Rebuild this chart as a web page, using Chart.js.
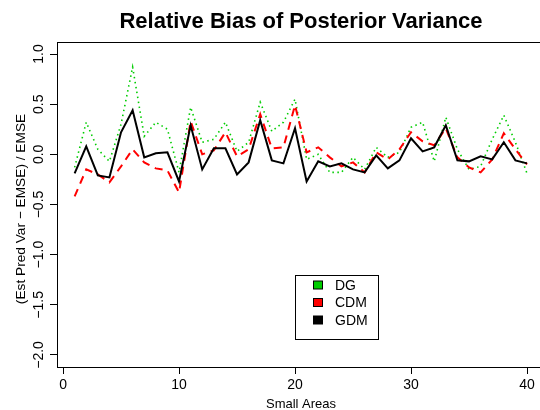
<!DOCTYPE html>
<html>
<head>
<meta charset="utf-8">
<script src="https://cdn.jsdelivr.net/npm/chart.js@4.4.1/dist/chart.umd.min.js"></script>
<style>
  html, body { margin: 0; padding: 0; background: #fff; }
</style>
</head>
<body>
<canvas id="biasChart" width="540" height="410"></canvas>
<script>
// --- data ---
const areas = [1, 2, 3, 4, 5, 6, 7, 8, 9, 10, 11, 12, 13, 14, 15, 16, 17, 18, 19, 20,
               21, 22, 23, 24, 25, 26, 27, 28, 29, 30, 31, 32, 33, 34, 35, 36, 37, 38, 39, 40];
const dgBias = [-0.13, 0.32, 0.05, -0.07, 0.30, 0.87, 0.18, 0.32, 0.25, -0.18,
                0.47, 0.12, 0.15, 0.32, 0.03, 0.12, 0.52, 0.23, 0.32, 0.55,
                -0.05, 0.00, -0.18, -0.18, -0.03, -0.15, 0.07, -0.03, 0.02, 0.27,
                0.32, -0.07, 0.37, 0.05, -0.15, -0.12, 0.15, 0.39, 0.12, -0.19];
const cdmBias = [-0.42, -0.15, -0.20, -0.28, -0.12, 0.05, -0.08, -0.14, -0.16, -0.38,
                 0.33, 0.00, 0.04, 0.22, -0.02, 0.05, 0.40, 0.06, 0.07, 0.49,
                 0.02, 0.07, -0.03, -0.12, -0.08, -0.18, 0.02, -0.05, 0.05, 0.22,
                 0.13, 0.09, 0.26, -0.03, -0.13, -0.18, -0.05, 0.21, 0.05, -0.10];
const gdmBias = [-0.19, 0.08, -0.21, -0.23, 0.22, 0.44, -0.03, 0.01, 0.02, -0.27,
                 0.29, -0.15, 0.06, 0.06, -0.20, -0.08, 0.34, -0.06, -0.09, 0.26,
                 -0.27, -0.07, -0.12, -0.09, -0.15, -0.18, -0.01, -0.14, -0.06, 0.16,
                 0.03, 0.07, 0.29, -0.06, -0.07, -0.02, -0.05, 0.12, -0.06, -0.09];
const xTicks = [0, 10, 20, 30, 40];
const yTicks = [-2.0, -1.5, -1.0, -0.5, 0.0, 0.5, 1.0];

const FONT = 'Liberation Sans, Arial, Helvetica, sans-serif';

const pts = vals => vals.map((v, i) => ({ x: areas[i], y: v }));

// box, title, axis titles and in-plot legend (R style)
const rDecor = {
  id: 'rDecor',
  afterDraw(chart) {
    const ctx = chart.ctx;
    const a = chart.chartArea;
    ctx.save();
    ctx.strokeStyle = '#000';
    ctx.lineWidth = 1;
    ctx.strokeRect(a.left + 0.5, a.top + 0.5, a.right - a.left, a.bottom - a.top);

    const cx = (a.left + a.right + 5) / 2;
    ctx.fillStyle = '#000';
    ctx.textAlign = 'center';
    ctx.textBaseline = 'middle';
    ctx.font = 'bold 22px ' + FONT;
    ctx.fillText('Relative Bias of Posterior Variance', cx, 22);

    ctx.font = '13px ' + FONT;
    ctx.fillText('Small Areas', cx, 404);
    ctx.save();
    ctx.translate(21, 209);
    ctx.rotate(-Math.PI / 2);
    ctx.font = '13.7px ' + FONT;
    ctx.fillText('(Est Pred Var \u2212 EMSE) / EMSE', 0, 0);
    ctx.restore();

    // legend
    ctx.lineWidth = 1;
    ctx.strokeRect(295.5, 275.5, 83, 64);
    const items = [['DG', '#00CD00'], ['CDM', '#FF0000'], ['GDM', '#000000']];
    ctx.textAlign = 'left';
    ctx.font = '14px ' + FONT;
    items.forEach((it, i) => {
      const y = 285 + i * 17.5;
      ctx.fillStyle = it[1];
      ctx.fillRect(313.5, y - 4, 9, 8);
      ctx.strokeRect(313.5, y - 4, 9, 8);
      ctx.fillStyle = '#000';
      ctx.fillText(it[0], 335, y + 1);
    });
    ctx.restore();
  }
};

new Chart(document.getElementById('biasChart'), {
  type: 'line',
  data: {
    datasets: [
      { label: 'GDM', data: pts(gdmBias), borderColor: '#000000', borderWidth: 2, order: 0 },
      { label: 'CDM', data: pts(cdmBias), borderColor: '#FF0000', borderWidth: 2, borderDash: [8, 6], order: 1 },
      { label: 'DG', data: pts(dgBias), borderColor: '#00CD00', borderWidth: 1.6, borderDash: [1.5, 3.5], order: 2 }
    ]
  },
  options: {
    responsive: false,
    animation: false,
    layout: { padding: { top: 42, left: 0, right: 0, bottom: 0 } },
    elements: { point: { radius: 0 }, line: { tension: 0, fill: false, borderCapStyle: 'butt' } },
    plugins: { legend: { display: false }, title: { display: false }, tooltip: { enabled: false } },
    scales: {
      x: {
        type: 'linear', min: -0.52, max: 41.12,
        afterFit: s => { s.height = 43; },
        afterBuildTicks: s => { s.ticks = xTicks.map(v => ({ value: v })); },
        ticks: { color: '#000', font: { family: FONT, size: 14 }, padding: 3, maxRotation: 0 },
        grid: { drawOnChartArea: false, tickLength: 7, color: '#000' },
        border: { display: true, color: '#000' }
      },
      y: {
        min: -2.12, max: 1.12,
        afterFit: s => { s.width = 57; },
        afterBuildTicks: s => { s.ticks = yTicks.map(v => ({ value: v })); },
        ticks: {
          color: '#000', font: { family: FONT, size: 14 }, padding: -3,
          minRotation: 90, maxRotation: 90, crossAlign: 'center',
          callback: v => (v < 0 ? '\u2212' : '') + Math.abs(v).toFixed(1)
        },
        grid: { drawOnChartArea: false, tickLength: 7, color: '#000' },
        border: { display: true, color: '#000' }
      }
    }
  },
  plugins: [rDecor]
});
</script>
</body>
</html>
